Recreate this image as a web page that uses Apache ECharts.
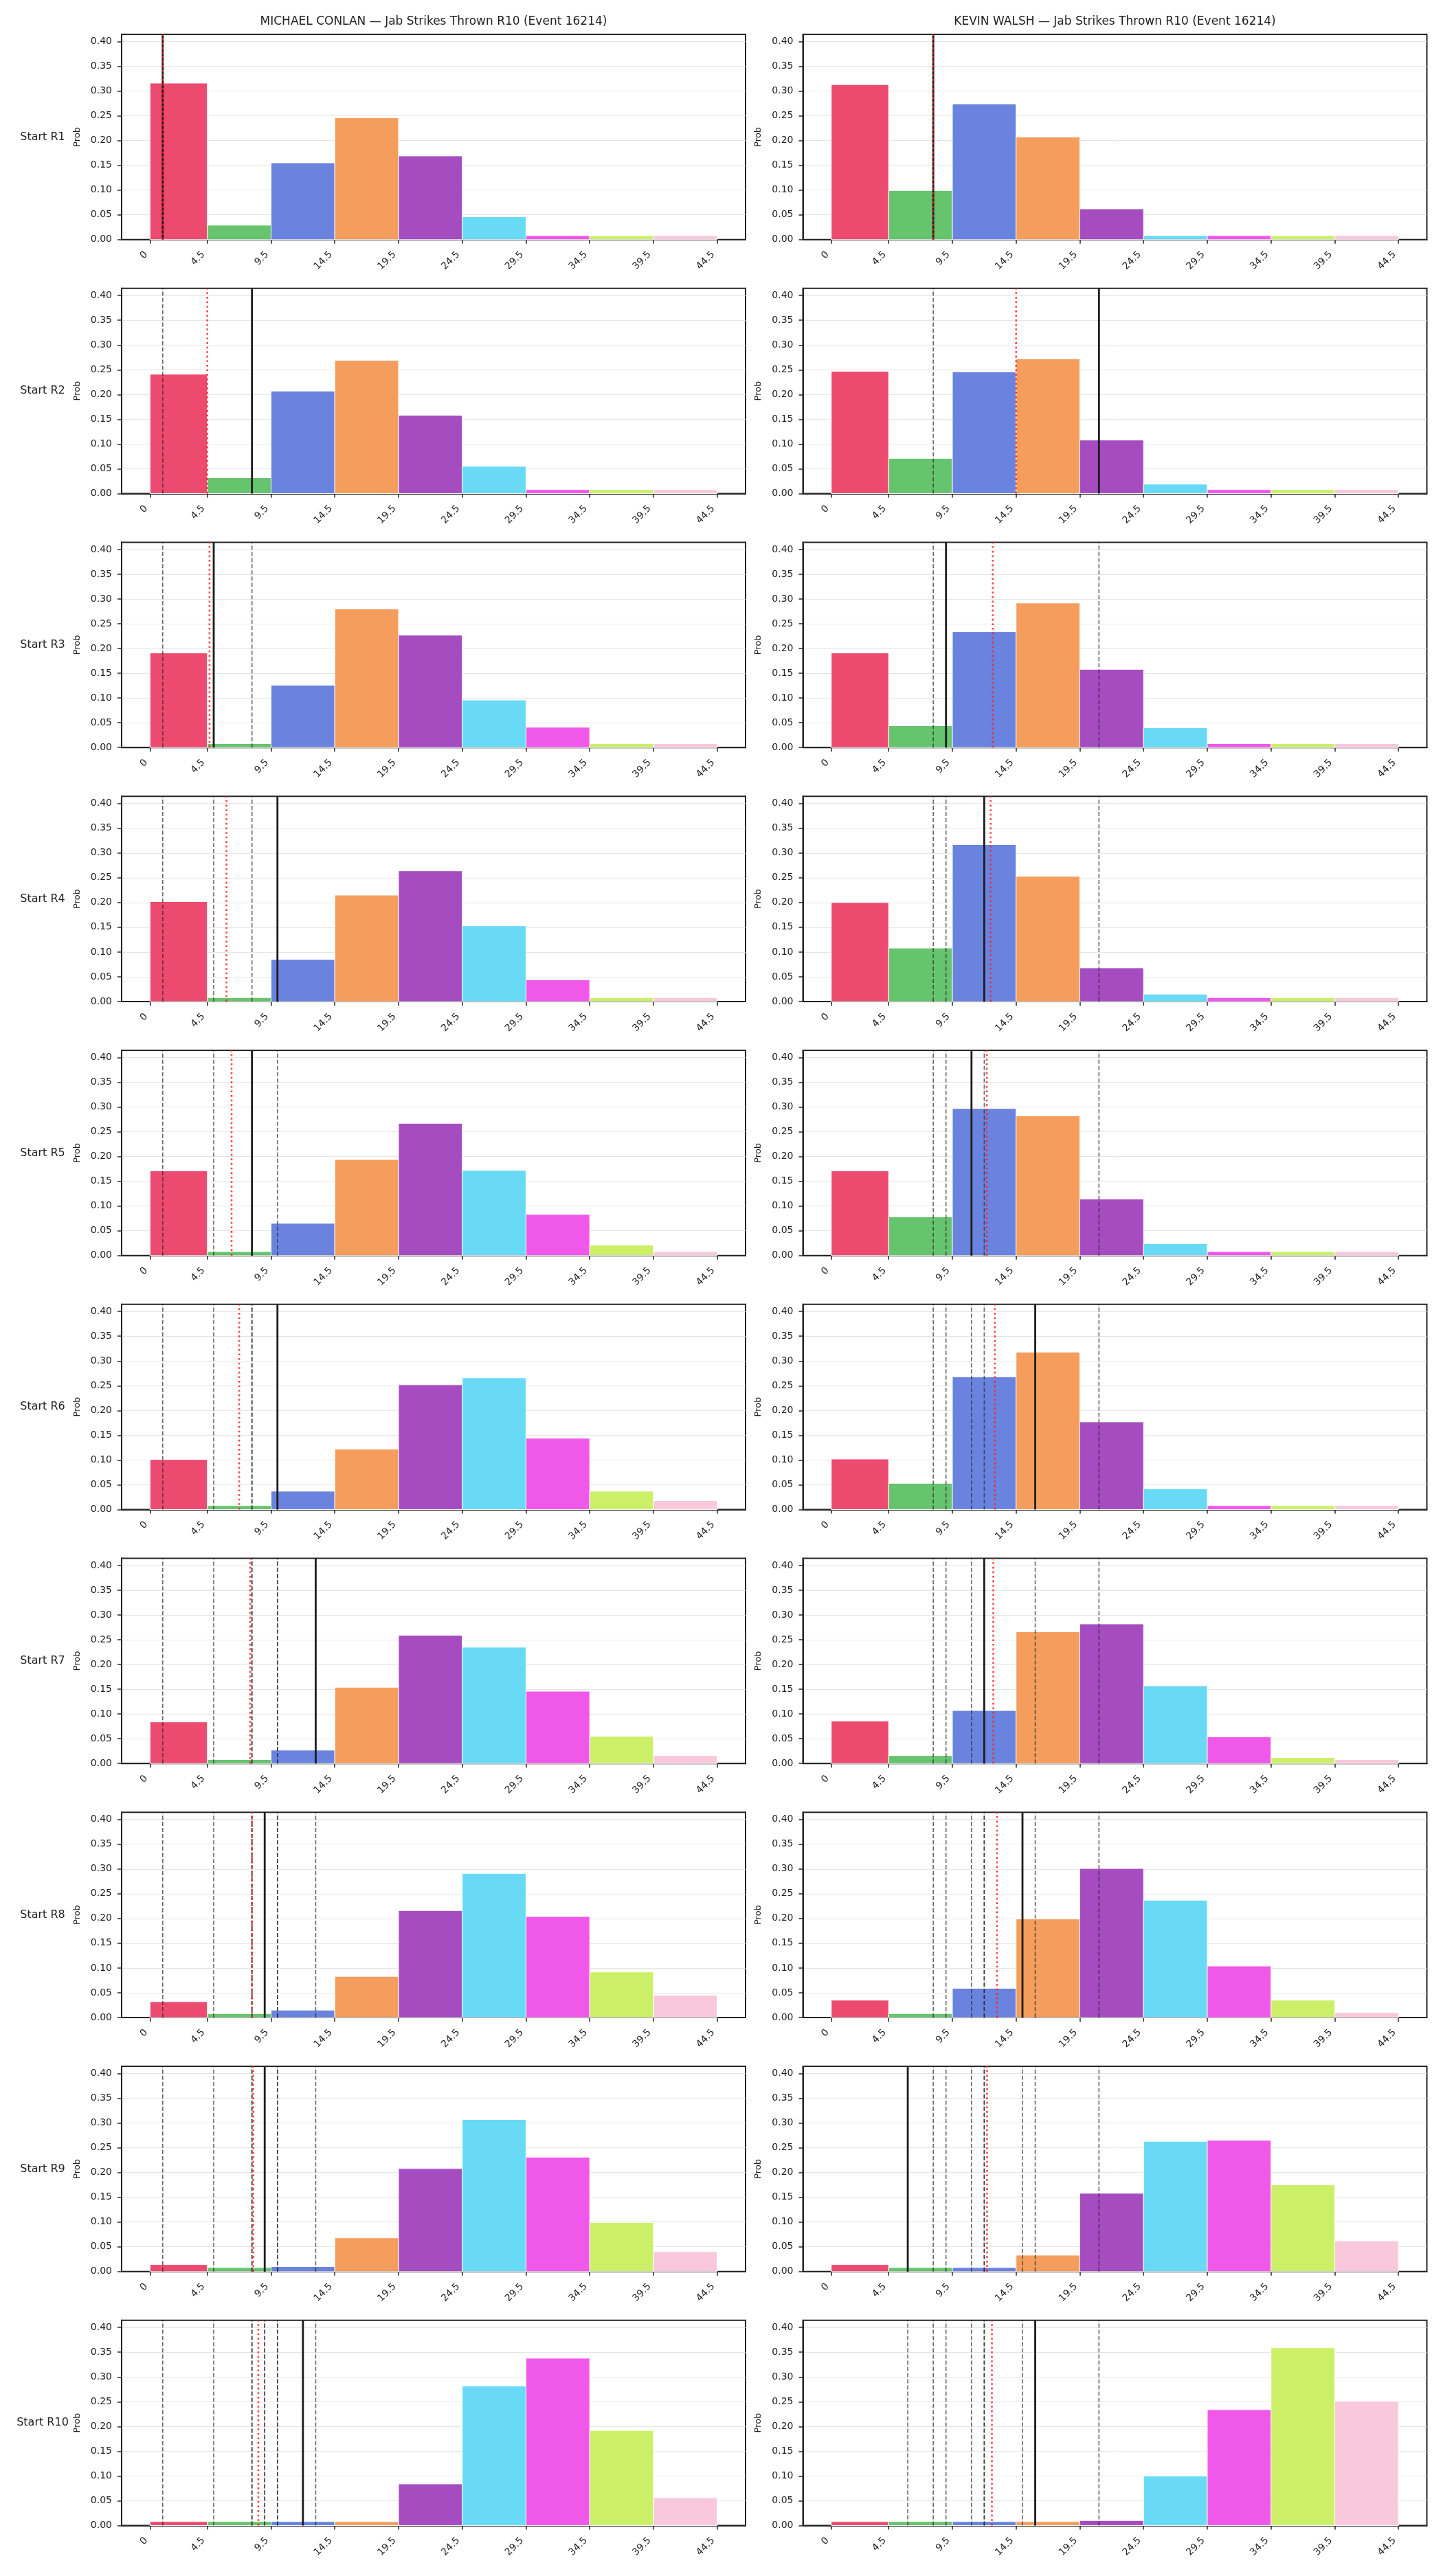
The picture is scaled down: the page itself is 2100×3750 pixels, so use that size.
<!DOCTYPE html>
<html>
<head>
<meta charset="utf-8">
<script src="https://cdn.jsdelivr.net/npm/echarts@6/dist/echarts.min.js"></script>
<style>
html,body{margin:0;padding:0;background:#fff;}
#main{width:2100px;height:3750px;}
</style>
</head>
<body>
<div id="main"></div>
<script>
// ---------------- DATA ----------------
const binEdges = [0, 4.5, 9.5, 14.5, 19.5, 24.5, 29.5, 34.5, 39.5, 44.5];
const xTickValues = [0, 4.5, 9.5, 14.5, 19.5, 24.5, 29.5, 34.5, 39.5, 44.5];
const yTickValues = [0, 0.05, 0.10, 0.15, 0.20, 0.25, 0.30, 0.35, 0.40];
const rowLabels = ['Start R1','Start R2','Start R3','Start R4','Start R5','Start R6','Start R7','Start R8','Start R9','Start R10'];
const fighterTitles = [
  'MICHAEL CONLAN \u2014 Jab Strikes Thrown R10 (Event 16214)',
  'KEVIN WALSH \u2014 Jab Strikes Thrown R10 (Event 16214)'
];

// probabilities per bin, one row per "Start Rk"
const conlanProbs = [
  [0.316, 0.029, 0.155, 0.246, 0.169, 0.046, 0.008, 0.008, 0.008],
  [0.241, 0.032, 0.207, 0.269, 0.158, 0.055, 0.008, 0.008, 0.008],
  [0.191, 0.008, 0.126, 0.280, 0.227, 0.096, 0.041, 0.008, 0.008],
  [0.202, 0.008, 0.085, 0.215, 0.264, 0.153, 0.044, 0.008, 0.008],
  [0.171, 0.008, 0.065, 0.194, 0.267, 0.172, 0.083, 0.021, 0.008],
  [0.101, 0.008, 0.037, 0.122, 0.252, 0.266, 0.144, 0.037, 0.018],
  [0.084, 0.008, 0.027, 0.154, 0.259, 0.235, 0.146, 0.055, 0.016],
  [0.032, 0.008, 0.015, 0.083, 0.216, 0.291, 0.204, 0.092, 0.045],
  [0.014, 0.008, 0.010, 0.068, 0.208, 0.307, 0.231, 0.099, 0.040],
  [0.008, 0.008, 0.008, 0.008, 0.084, 0.282, 0.338, 0.192, 0.056]
];
const walshProbs = [
  [0.313, 0.099, 0.274, 0.207, 0.062, 0.008, 0.008, 0.008, 0.008],
  [0.247, 0.071, 0.246, 0.272, 0.108, 0.019, 0.008, 0.008, 0.008],
  [0.191, 0.044, 0.234, 0.292, 0.158, 0.040, 0.008, 0.008, 0.008],
  [0.200, 0.108, 0.317, 0.253, 0.068, 0.015, 0.008, 0.008, 0.008],
  [0.171, 0.078, 0.297, 0.282, 0.114, 0.024, 0.008, 0.008, 0.008],
  [0.102, 0.053, 0.268, 0.318, 0.177, 0.042, 0.008, 0.008, 0.008],
  [0.086, 0.016, 0.107, 0.266, 0.282, 0.157, 0.054, 0.012, 0.008],
  [0.035, 0.008, 0.059, 0.199, 0.301, 0.237, 0.104, 0.035, 0.010],
  [0.014, 0.008, 0.008, 0.033, 0.158, 0.263, 0.265, 0.175, 0.062],
  [0.008, 0.008, 0.008, 0.008, 0.010, 0.100, 0.234, 0.359, 0.251]
];

// observed value at start of each round (black solid), earlier ones drawn dashed
const conlanActual = [1, 8, 5, 10, 8, 10, 13, 9, 9, 12];
const walshActual  = [8, 21, 9, 12, 11, 16, 12, 15, 6, 16];
// running average marker (red dotted)
const conlanAvg = [1, 4.5, 4.67, 6, 6.4, 7, 7.86, 8, 8.11, 8.5];
const walshAvg  = [8, 14.5, 12.67, 12.5, 12.2, 12.83, 12.71, 13, 12.22, 12.6];

const binColors = ['#EC4A6F', '#66C46E', '#6A83DF', '#F59D5C', '#A54CC0', '#68DAF5', '#F058EA', '#CBF068', '#F9C8DA'];

// ---------------- LAYOUT ----------------
const X_MIN = -2.225, X_MAX = 46.725, Y_MAX = 0.4145;
const colLeft = [177, 1168.5];
const GRID_W = 908;
const GRID_TOP0 = 50;
const ROW_PITCH = 369.75;
const GRID_H = 298.7;
const FONT = 'DejaVu Sans';
const TXT = '#222';

const grids = [], xAxes = [], yAxes = [], series = [], graphics = [];
const fighters = [
  {probs: conlanProbs, actual: conlanActual, avg: conlanAvg},
  {probs: walshProbs, actual: walshActual, avg: walshAvg}
];

for (let r = 0; r < 10; r++) {
  for (let c = 0; c < 2; c++) {
    const idx = r * 2 + c;
    const top = GRID_TOP0 + ROW_PITCH * r;
    grids.push({
      left: colLeft[c], top: top, width: GRID_W, height: GRID_H,
      show: true, borderColor: '#262626', borderWidth: 2, backgroundColor: 'transparent',
      containLabel: false, outerBoundsMode: 'none'
    });
    xAxes.push({
      gridIndex: idx, type: 'value', min: X_MIN, max: X_MAX,
      axisLine: {show: true, onZero: false, lineStyle: {color: '#262626', width: 2}},
      axisTick: {show: true, customValues: xTickValues, length: 6, lineStyle: {color: '#262626', width: 1.5}},
      axisLabel: {show: true, customValues: xTickValues, rotate: 45, margin: 14, padding: [0, 8, 0, 0],
                  fontSize: 14, fontFamily: FONT, color: TXT, formatter: v => String(v)},
      splitLine: {show: false}
    });
    yAxes.push({
      gridIndex: idx, type: 'value', min: 0, max: Y_MAX, interval: 0.05,
      axisLine: {show: true, onZero: false, lineStyle: {color: '#262626', width: 2}},
      axisTick: {show: true, customValues: yTickValues, length: 6, lineStyle: {color: '#262626', width: 1.5}},
      axisLabel: {show: true, customValues: yTickValues, margin: 14, fontSize: 14, fontFamily: FONT, color: TXT,
                  formatter: v => Number(v).toFixed(2)},
      splitLine: {show: true, lineStyle: {color: '#e6e6e6', width: 1}},
      name: 'Prob', nameLocation: 'middle', nameGap: 58, nameRotate: 90,
      nameTextStyle: {fontSize: 13, fontFamily: FONT, color: TXT}
    });

    const f = fighters[c];
    const probs = f.probs[r];
    const barData = probs.map((p, i) => [binEdges[i], binEdges[i + 1], p, i]);
    series.push({
      type: 'custom', xAxisIndex: idx, yAxisIndex: idx, silent: true,
      dimensions: ['x0', 'x1', 'p', 'bin'],
      encode: {x: [0, 1], y: 2},
      data: barData,
      renderItem: (params, api) => {
        const x0 = api.value(0), x1 = api.value(1), h = api.value(2);
        const a = api.coord([x0, h]);
        const b = api.coord([x1, 0]);
        return {
          type: 'rect',
          shape: {x: a[0], y: a[1], width: b[0] - a[0], height: b[1] - a[1]},
          style: {fill: binColors[api.value(3)], stroke: '#ffffff', lineWidth: 1}
        };
      }
    });

    // vertical markers: kind 0 = earlier rounds (dashed), 1 = current (solid), 2 = running avg (dotted)
    const lineData = [];
    for (let k = 0; k < r; k++) lineData.push([f.actual[k], 0]);
    lineData.push([f.actual[r], 1]);
    lineData.push([f.avg[r], 2]);
    series.push({
      type: 'custom', xAxisIndex: idx, yAxisIndex: idx, silent: true,
      dimensions: ['x', 'kind'],
      encode: {x: 0},
      data: lineData,
      z: 5,
      renderItem: (params, api) => {
        const x = api.value(0), kind = api.value(1);
        const p0 = api.coord([x, 0]);
        const p1 = api.coord([x, Y_MAX]);
        let style;
        if (kind === 0) style = {stroke: 'rgba(40,40,40,0.7)', lineWidth: 1.6, lineDash: [6, 3]};
        else if (kind === 1) style = {stroke: '#1c1c1c', lineWidth: 2.8};
        else style = {stroke: 'rgba(255,30,30,0.85)', lineWidth: 2.6, lineDash: [2.6, 4]};
        return {type: 'line', shape: {x1: p0[0], y1: p0[1], x2: p1[0], y2: p1[1]}, style: style};
      }
    });

    if (c === 0) {
      graphics.push({
        type: 'text', x: 62, y: top + GRID_H / 2, silent: true,
        style: {text: rowLabels[r], fill: TXT, font: '16px "DejaVu Sans"', textAlign: 'center', textVerticalAlign: 'middle'}
      });
    }
  }
}

for (let c = 0; c < 2; c++) {
  graphics.push({
    type: 'text', x: colLeft[c] + GRID_W / 2, y: 32, silent: true,
    style: {text: fighterTitles[c], fill: TXT, font: '17px "DejaVu Sans"', textAlign: 'center', textVerticalAlign: 'middle'}
  });
}

const chart = echarts.init(document.getElementById('main'), null, {renderer: 'canvas', width: 2100, height: 3750});
chart.setOption({
  animation: false,
  backgroundColor: '#ffffff',
  textStyle: {fontFamily: FONT},
  grid: grids,
  xAxis: xAxes,
  yAxis: yAxes,
  series: series,
  graphic: graphics
});
</script>
</body>
</html>
